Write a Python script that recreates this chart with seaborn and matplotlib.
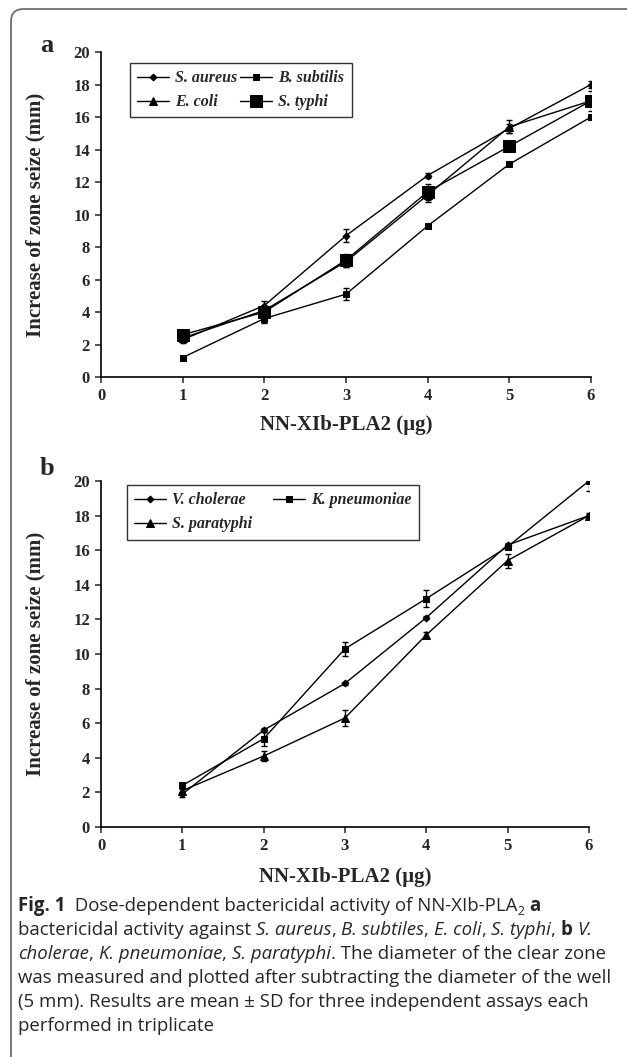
import pandas as pd
import seaborn as sns
import matplotlib.pyplot as plt
from matplotlib.patches import FancyBboxPatch
from matplotlib.font_manager import FontProperties

# data (mean zone increase in mm, and SD)
doses = [1, 2, 3, 4, 5, 6]

a_names = ["S. aureus", "B. subtilis", "E. coli", "S. typhi"]
aureus = [2.3, 4.4, 8.7, 12.4, 15.3, 18.0]
aureus_sd = [0.2, 0.3, 0.4, 0.15, 0.3, 0.2]
subtilis = [1.2, 3.6, 5.1, 9.3, 13.1, 16.0]
subtilis_sd = [0.1, 0.25, 0.35, 0.1, 0.1, 0.15]
ecoli = [2.4, 4.1, 7.1, 11.2, 15.4, 17.0]
ecoli_sd = [0.15, 0.3, 0.3, 0.4, 0.4, 0.3]
typhi = [2.6, 4.0, 7.2, 11.4, 14.2, 17.0]
typhi_sd = [0.2, 0.3, 0.4, 0.5, 0.2, 0.6]

b_names = ["V. cholerae", "K. pneumoniae", "S. paratyphi"]
cholerae = [1.9, 5.6, 8.3, 12.1, 16.3, 18.0]
cholerae_sd = [0.15, 0.1, 0.1, 0.1, 0.1, 0.1]
pneumoniae = [2.4, 5.1, 10.3, 13.2, 16.2, 20.0]
pneumoniae_sd = [0.15, 0.4, 0.4, 0.5, 0.1, 0.6]
paratyphi = [2.1, 4.1, 6.3, 11.1, 15.4, 18.0]
paratyphi_sd = [0.1, 0.3, 0.45, 0.2, 0.4, 0.15]

sns.set_style("ticks")
plt.rcParams["font.family"] = ["Liberation Serif", "DejaVu Serif"]

fig = plt.figure(figsize=(6.27, 10.57), dpi=100)
W, H = 627, 1057

# frame round the figure (only left and top edges show)
frame = FancyBboxPatch((11 / W, -0.05), 1.2, 1.05 - 9 / H,
                       boxstyle="round,pad=0,rounding_size=0.02",
                       transform=fig.transFigure, fill=False,
                       edgecolor="#6e6e6e", linewidth=1.3, mutation_aspect=W / H)
fig.patches.append(frame)

ax_a = fig.add_axes([0.1611, 0.6433, 0.7815, 0.3075])
ax_b = fig.add_axes([0.1611, 0.2176, 0.7780, 0.3273])

styles_a = [("D", 3.5), ("s", 4.3), ("^", 5.5), ("s", 8.0)]
styles_b = [("D", 3.5), ("s", 4.8), ("^", 5.8)]


def draw_panel(ax, names, series, sds, styles, leg_order, leg_anchor, colsp, xlab_y):
    for name, vals, sd, (mk, ms) in zip(names, series, sds, styles):
        df = pd.DataFrame({"dose": doses, "zone": vals})
        sns.lineplot(data=df, x="dose", y="zone", ax=ax, color="black",
                     linewidth=1.0, marker=mk, markersize=ms,
                     markeredgecolor="black", label=name)
        ax.errorbar(doses, vals, yerr=sd, fmt="none", ecolor="black",
                    elinewidth=1.0, capsize=2.5, capthick=1.0)
    ax.set_xlim(0, 6)
    ax.set_ylim(0, 20)
    ax.set_xticks(range(0, 7))
    ax.set_yticks(range(0, 21, 2))
    sns.despine(ax=ax)
    for s in ["left", "bottom"]:
        ax.spines[s].set_linewidth(1.2)
        ax.spines[s].set_color("black")
    ax.tick_params(direction="out", length=4, width=1.1, labelsize=12, pad=4)
    for lbl in ax.get_xticklabels() + ax.get_yticklabels():
        lbl.set_fontweight("bold")
    ax.set_xlabel("NN-XIb-PLA2 (µg)", fontsize=15, fontweight="bold")
    ax.set_ylabel("Increase of zone seize (mm)", fontsize=15, fontweight="bold")
    ax.xaxis.set_label_coords(0.5, xlab_y)
    ax.yaxis.set_label_coords(-0.114, 0.5)
    handles, labels = ax.get_legend_handles_labels()
    handles = [handles[i] for i in leg_order]
    labels = [labels[i] for i in leg_order]
    leg = ax.legend(handles, labels, loc="upper left", bbox_to_anchor=leg_anchor,
                    borderaxespad=0, ncol=2, frameon=True, fancybox=False,
                    handlelength=2.0, columnspacing=colsp, handletextpad=0.4,
                    borderpad=0.45, labelspacing=0.5,
                    prop={"family": "Liberation Serif", "weight": "bold",
                          "style": "italic", "size": 11.5})
    leg.get_frame().set_edgecolor("black")
    leg.get_frame().set_linewidth(1.0)


# legends read row-wise in the reference, so feed columns accordingly
draw_panel(ax_a, a_names, [aureus, subtilis, ecoli, typhi],
           [aureus_sd, subtilis_sd, ecoli_sd, typhi_sd], styles_a,
           [0, 2, 1, 3], (0.059, 0.966), 0.15, -0.117)
draw_panel(ax_b, b_names, [cholerae, pneumoniae, paratyphi],
           [cholerae_sd, pneumoniae_sd, paratyphi_sd], styles_b,
           [0, 2, 1], (0.053, 0.988), 1.3, -0.117)

fig.text(47 / W, 1 - 45 / H, "a", fontsize=19, fontweight="bold",
         ha="center", va="center")
fig.text(47 / W, 1 - 468 / H, "b", fontsize=19, fontweight="bold",
         ha="center", va="center")

# caption, drawn piece by piece so bold / italic runs sit inline
caption = [
    [("Fig. 1", "b"), ("  Dose-dependent bactericidal activity of NN-XIb-PLA", "r"),
     ("2", "sub"), (" ", "r"), ("a", "b")],
    [("bactericidal activity against ", "r"), ("S. aureus", "i"), (", ", "r"),
     ("B. subtiles", "i"), (", ", "r"), ("E. coli", "i"), (", ", "r"),
     ("S. typhi", "i"), (", ", "r"), ("b", "b"), (" ", "r"), ("V.", "i")],
    [("cholerae", "i"), (", ", "r"), ("K. pneumoniae", "i"), (", ", "r"),
     ("S. paratyphi", "i"), (". The diameter of the clear zone", "r")],
    [("was measured and plotted after subtracting the diameter of the well", "r")],
    [("(5 mm). Results are mean ± SD for three independent assays each", "r")],
    [("performed in triplicate", "r")],
]

renderer = fig.canvas.get_renderer()
cap_size = 13.4


def seg_props(kind):
    if kind == "b":
        return FontProperties(family="Open Sans", weight="bold", size=cap_size)
    if kind == "i":
        return FontProperties(family="Open Sans", style="italic", size=cap_size)
    if kind == "sub":
        return FontProperties(family="Open Sans", size=cap_size * 0.65)
    return FontProperties(family="Open Sans", size=cap_size)


def advance(txt, prop):
    w1, _, _ = renderer.get_text_width_height_descent(txt + "|", prop, ismath=False)
    w2, _, _ = renderer.get_text_width_height_descent("|", prop, ismath=False)
    return w1 - w2


for i, line in enumerate(caption):
    x = 18.0
    base = 911 + 24.0 * i
    for txt, kind in line:
        prop = seg_props(kind)
        y = base + (4 if kind == "sub" else 0)
        fig.text(x / W, 1 - y / H, txt, fontproperties=prop,
                 ha="left", va="baseline")
        x += advance(txt, prop)

fig.savefig("out.png", dpi=100)
